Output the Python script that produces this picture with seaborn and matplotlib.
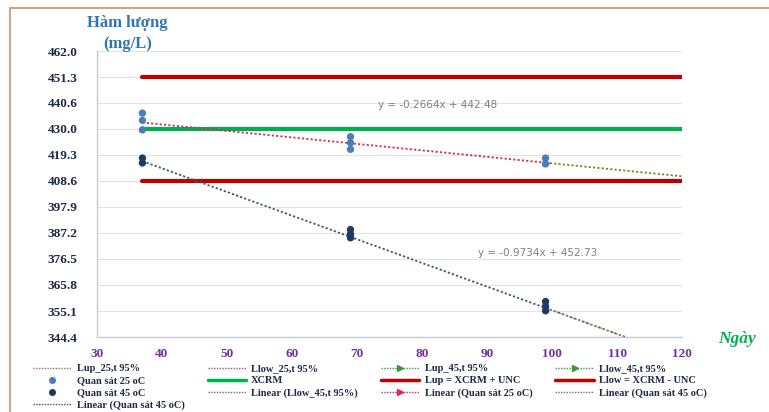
import numpy as np
import pandas as pd
import matplotlib.pyplot as plt
import seaborn as sns
from matplotlib.lines import Line2D
from matplotlib.patches import Rectangle

### data
days = [37, 69, 99]
obs_25_day = [37, 37, 37, 69, 69, 69, 99, 99]
obs_25_val = [436.5, 433.5, 429.6, 426.8, 424.3, 421.6, 418.0, 415.6]
obs_45_day = [37, 37, 69, 69, 69, 99, 99, 99]
obs_45_val = [418.0, 416.0, 388.6, 386.7, 385.2, 359.0, 357.0, 355.2]

xcrm = 430.0
lup = 451.3
llow = 408.6
line_days = [37, 120]

slope_25, icept_25 = -0.2664, 442.48
slope_45, icept_45 = -0.9734, 452.73
eq_25 = "y = -0.2664x + 442.48"
eq_45 = "y = -0.9734x + 452.73"

ytick_vals = [344.4, 355.1, 365.8, 376.5, 387.2, 397.9, 408.6, 419.3, 430.0, 440.7, 451.3, 462.0]
ytick_labels = ["344.4", "355.1", "365.8", "376.5", "387.2", "397.9", "408.6", "419.3", "430.0", "440.6", "451.3", "462.0"]
xtick_vals = [30, 40, 50, 60, 70, 80, 90, 100, 110, 120]

df25 = pd.DataFrame({"day": obs_25_day, "val": obs_25_val})
df45 = pd.DataFrame({"day": obs_45_day, "val": obs_45_val})

sns.set_style("white")
plt.rcParams['font.family'] = ['Liberation Serif', 'DejaVu Serif']

fig = plt.figure(figsize=(7.69, 4.12), dpi=100)
ax = fig.add_axes([0.126, 0.182, 0.761, 0.694])

red = '#C00000'
green = '#00B050'
c25 = '#4A7EBB'
c45 = '#1F3864'

### horizontal limits
sns.lineplot(x=line_days, y=[lup, lup], color=red, lw=3, ax=ax)
sns.lineplot(x=line_days, y=[xcrm, xcrm], color=green, lw=3, ax=ax)
sns.lineplot(x=line_days, y=[llow, llow], color=red, lw=3, ax=ax)

### trend lines
x25 = np.array([days[0], days[-1]])
ax.plot(x25, slope_25 * x25 + icept_25, color='#D0305A', lw=1.3, ls=(0, (1.2, 1.2)))
ax.plot([days[-1]], [slope_25 * days[-1] + icept_25], marker='>', color='#E0206A', ms=5)
x25b = np.array([days[-1], line_days[-1]])
ax.plot(x25b, slope_25 * x25b + icept_25, color='#6B8E23', lw=1.3, ls=(0, (1.2, 1.2)))

x45_end = (344.4 - icept_45) / slope_45
x45 = np.array([days[0], x45_end])
ax.plot(x45, slope_45 * x45 + icept_45, color='#44546A', lw=1.3, ls=(0, (1.2, 1.2)))
x45b = np.array([days[-1], x45_end])
ax.plot(x45b, slope_45 * x45b + icept_45, color='#A0A060', lw=1.0, ls=(1.2, (1.2, 1.2)))

### observations
sns.scatterplot(data=df25, x='day', y='val', color=c25, s=28, edgecolor='none', ax=ax, zorder=5)
sns.scatterplot(data=df45, x='day', y='val', color=c45, s=28, edgecolor='none', ax=ax, zorder=5)

ax.text(73.2, 439.8, eq_25, fontsize=7.5, color='#7F7F7F', family='DejaVu Sans', va='center')
ax.text(88.6, 378.9, eq_45, fontsize=7.5, color='#7F7F7F', family='DejaVu Sans', va='center')

ax.set_xlim(30, 120)
ax.set_ylim(344.4, 462.0)
ax.set_yticks(ytick_vals)
ax.set_yticklabels(ytick_labels, fontsize=9.5, fontweight='bold', color='#1F2A44')
ax.set_xticks(xtick_vals)
ax.set_xticklabels([str(v) for v in xtick_vals], fontsize=9.5, fontweight='bold', color='#7030A0')
ax.tick_params(axis='y', length=0, pad=14)
ax.tick_params(axis='x', length=0, pad=8)
ax.grid(axis='y', color='#E3E3E3', lw=0.8)
ax.set_xlabel('')
ax.set_ylabel('')
for s in ['top', 'right']:
    ax.spines[s].set_visible(False)
for s in ['left', 'bottom']:
    ax.spines[s].set_color('#C8CCD0')
    ax.spines[s].set_linewidth(1.0)

fig.text(0.166, 0.943, "Hàm lượng", ha='center', va='center', fontsize=12,
         fontweight='bold', color='#2E75B6')
fig.text(0.166, 0.893, "(mg/L)", ha='center', va='center', fontsize=12,
         fontweight='bold', color='#2E75B6')
fig.text(0.958, 0.178, "Ngày", ha='center', va='center', fontsize=12.5,
         fontweight='bold', style='italic', color=green)

### legend (column-major order)
dot = (0, (1, 1))
handles = [
    Line2D([], [], color='#A07050', lw=1, ls=dot),
    Line2D([], [], color=c25, ls='none', marker='o', ms=4),
    Line2D([], [], color=c45, ls='none', marker='o', ms=4),
    Line2D([], [], color='#44546A', lw=1, ls=dot),
    Line2D([], [], color='#C05050', lw=1, ls=dot),
    Line2D([], [], color=green, lw=2.5),
    Line2D([], [], color='#707070', lw=1, ls=dot),
    Line2D([], [], color='#3A9A3A', lw=1, ls=dot, marker='>', markevery=[-1], ms=5),
    Line2D([], [], color=red, lw=2.5),
    Line2D([], [], color='#E0206A', lw=1, ls=dot, marker='>', markevery=[-1], ms=5),
    Line2D([], [], color='#3A9A3A', lw=1, ls=dot, marker='>', markevery=[-1], ms=5),
    Line2D([], [], color=red, lw=2.5),
    Line2D([], [], color='#707070', lw=1, ls=dot),
]
labels = [
    "Lup_25,t 95%", "Quan sát 25 oC", "Quan sát 45 oC", "Linear (Quan sát 45 oC)",
    "Llow_25,t 95%", "XCRM", "Linear (Llow_45,t 95%)",
    "Lup_45,t 95%", "Lup = XCRM + UNC", "Linear (Quan sát 25 oC)",
    "Llow_45,t 95%", "Llow = XCRM - UNC", "Linear (Quan sát 45 oC)",
]
leg = fig.legend(handles, labels, ncol=4, loc='upper left',
                 bbox_to_anchor=(33 / 769, 1 - 364 / 412),
                 frameon=False, handlelength=3.7, handletextpad=0.5,
                 columnspacing=2.2, labelspacing=0.27, borderaxespad=0, borderpad=0,
                 prop={'family': 'Liberation Serif', 'weight': 'bold', 'size': 7.5})
for t in leg.get_texts():
    t.set_color('#1F2A44')

fig.patches.append(Rectangle((0.013, -0.01), 1.0, 0.99, transform=fig.transFigure,
                             fill=False, edgecolor='#C8A882', lw=1.5))

fig.savefig('out.png', dpi=100)
